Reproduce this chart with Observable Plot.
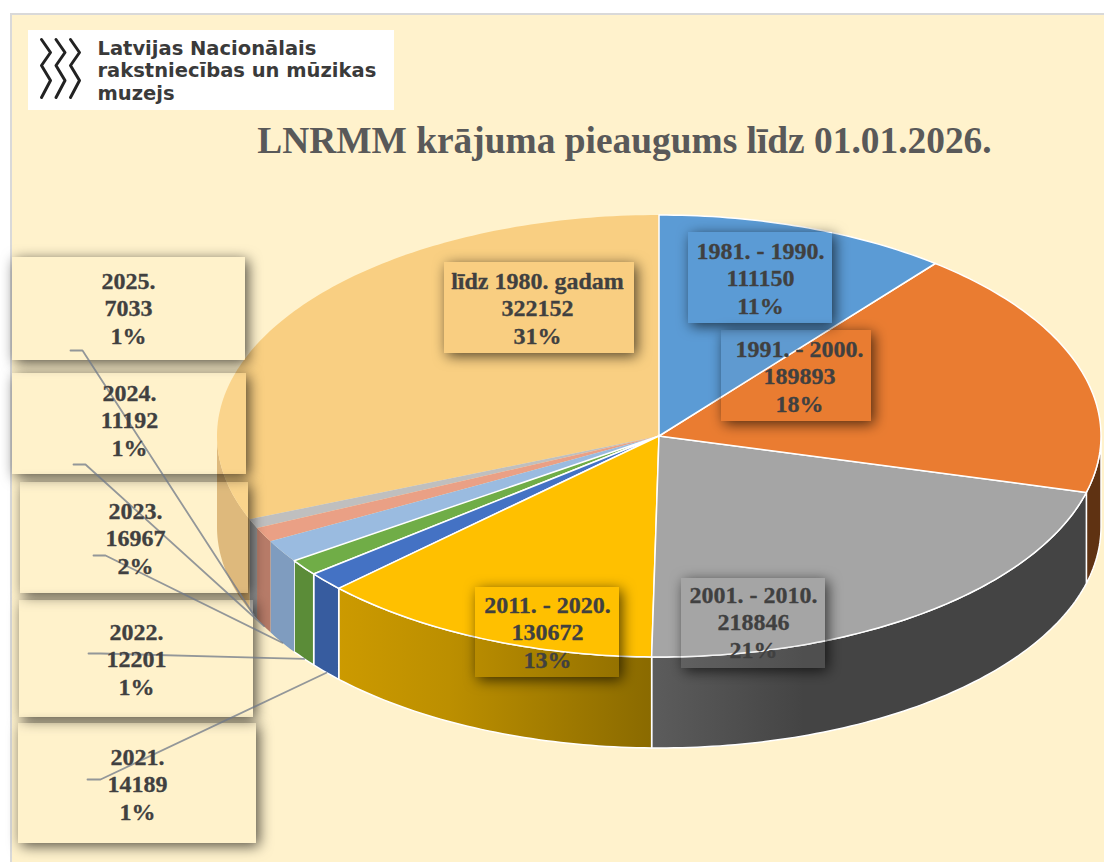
<!DOCTYPE html>
<html>
<head>
<meta charset="utf-8">
<style>html,body{margin:0;padding:0;background:#fff}svg{display:block}</style>
<script src="https://cdn.jsdelivr.net/npm/d3@7"></script>
<script src="https://cdn.jsdelivr.net/npm/@observablehq/plot@0.6"></script>
</head>
<body>
<div id="chart"></div>
<script>
// Data, clockwise from 12 o'clock
const categories = ["1981. - 1990.","1991. - 2000.","2001. - 2010.","2011. - 2020.","2021.","2022.","2023.","2024.","2025.","līdz 1980. gadam"];
const values = [111150,189893,218846,130672,14189,12201,16967,11192,7033,322152];

// Styles
const topColors  = ["#5B9BD5","#EA7C31","#A5A5A5","#FFC000","#4472C4","#70AD47","#9ABBE0","#EAA085","#BFBFBF","#F9CF82"];
const wallColors = ["#44749F","#5F3212","url(#wallGray)","url(#wallGold)","#375C9F","#5B8C38","#7F9CBF","#B77B68","#8F8F8F","#D9B06F"];
const whiteEdge  = [true,true,true,true,true,true,false,false,false,false];
const boxTint    = [0.03,0.03,0.12,0.03,0.15,0.15,0.15,0.15,0.15,0.03];

// Layout (pixels of the picture)
const cx = 659, cy = 436, rx = 442, ry = 221, depth = 91;
const boxX1 = [688,721,681,475,18,19,20,12,12,444];
const boxX2 = [832,871,825,619,256,253,248,246,245,634];
const boxY1 = [232,330,578,587,723,600,482,373,257,262];
const boxY2 = [323,421,668,677,843,717,593,474,360,353];
const textX = [760,799,753,547,137,136,135,129,128,537];
const textY = [277,375,621,631,783,658,537,419,307,307];
const leaderStartX = [null,null,null,null,87,88,93,73,70,null];
const leaderElbowX = [null,null,null,null,100,100,105,85,82,null];
const leaderY      = [null,null,null,null,779,653,555,464,350,null];
const fontSerif = "'Liberation Serif','Times New Roman',serif";

// Logo
const logoLines = ["Latvijas Nacionālais","rakstniecības un mūzikas","muzejs"];
const zigX = [41,50,41,50,41];
const zigY = [39,52,65,80,97];
const zigShift = [0,14.5,29];

const total = d3.sum(values);
const pct = d3.format(".0%");
const sx = t => cx + rx * Math.sin(t);
const sy = t => cy - ry * Math.cos(t);
const rad = Math.PI / 180;

let cum = 0;
const slices = categories.map((name,i) => {
  const a0 = cum / total * 360; cum += values[i]; const a1 = cum / total * 360;
  return {i,name,value:values[i],a0,a1,mid:(a0+a1)/2};
});
const arcAngles = (a0,a1) => { const n = Math.max(2,Math.ceil(a1-a0)); return d3.range(n+1).map(k => a0+(a1-a0)*k/n); };

const topPts = slices.flatMap(s => arcAngles(s.a0,s.a1).map(a => ({
  name:s.name,i:s.i,x1:cx,y1:cy,x2:sx(a*rad),y2:sy(a*rad)})));
const wallPts = slices.flatMap(s => {
  const a0 = Math.max(s.a0,90), a1 = Math.min(s.a1,270);
  if (a1 <= a0) return [];
  return arcAngles(a0,a1).map(a => ({name:s.name,i:s.i,x:sx(a*rad),y1:sy(a*rad),y2:sy(a*rad)+depth}));
});
const leaderPts = slices.filter(s => leaderY[s.i] != null).flatMap(s => [
  {i:s.i,x:leaderStartX[s.i],y:leaderY[s.i]},
  {i:s.i,x:leaderElbowX[s.i],y:leaderY[s.i]},
  {i:s.i,x:sx(s.mid*rad),y:sy(s.mid*rad)+depth}
]);
const boxOrder = [9,0,1,2,3,8,7,6,5,4];

const boxMarks = boxOrder.flatMap(i => {
  const b = [{x1:boxX1[i],x2:boxX2[i],y1:boxY1[i],y2:boxY2[i]}];
  const tint = i >= 4 && i <= 8 ? "#FFF2CC" : topColors[i];
  return [
    Plot.rect(b,{x1:"x1",x2:"x2",y1:"y1",y2:"y2",fill:"#000",imageFilter:"url(#outerShadow)"}),
    Plot.rect(b,{x1:"x1",x2:"x2",y1:"y1",y2:"y2",fill:tint,fillOpacity:boxTint[i]})
  ];
});

const plot = Plot.plot({
  width:1104,height:862,margin:0,
  style:{background:"#fff"},
  x:{domain:[0,1104],range:[0,1104],axis:null},
  y:{domain:[0,862],range:[0,862],axis:null},
  marks:[
    Plot.rect([{}],{x1:()=>11,x2:()=>1110,y1:()=>14,y2:()=>870,fill:"#FFF2CC",stroke:"#d9d9d9",strokeWidth:2}),
    // logo
    Plot.rect([{}],{x1:()=>28,x2:()=>394,y1:()=>30,y2:()=>110,fill:"#fff"}),
    Plot.line(zigShift.flatMap((d,k)=>zigX.map((x,j)=>({k,x:x+d,y:zigY[j]}))),{x:"x",y:"y",z:"k",stroke:"#222",strokeWidth:3}),
    Plot.text([logoLines.join("\n")],{x:()=>97,y:()=>69.5,text:d=>d,textAnchor:"start",lineHeight:1.15,fontFamily:"'DejaVu Sans',sans-serif",fontWeight:"bold",fontSize:19.5,fill:"#3a3a3a"}),
    // title
    Plot.text(["LNRMM krājuma pieaugums līdz 01.01.2026."],{x:()=>624,y:()=>141,text:d=>d,fontFamily:fontSerif,fontWeight:"bold",fontSize:37.4,fill:"#595959"}),
    // walls
    ...slices.filter(s=>wallPts.some(p=>p.i===s.i)).map(s=>Plot.areaY(wallPts.filter(p=>p.i===s.i),{x:"x",y1:"y1",y2:"y2",fill:wallColors[s.i],stroke:whiteEdge[s.i]?"#fff":"none",strokeWidth:1.5})),
    // top faces: unoutlined first
    ...[9,8,7,6,5,4,3,2,1,0].map(i=>Plot.area(topPts.filter(p=>p.i===i),{x1:"x1",y1:"y1",x2:"x2",y2:"y2",fill:topColors[i],stroke:whiteEdge[i]?"#fff":"none",strokeWidth:1.5})),
    // label boxes
    ...boxMarks,
    // leaders
    Plot.line(leaderPts,{x:"x",y:"y",z:"i",stroke:"#6f7888",strokeOpacity:0.75,strokeWidth:1.8}),
    // labels
    Plot.text(slices,{x:d=>textX[d.i],y:d=>textY[d.i],text:d=>`${d.name}\n${d.value}\n${pct(Math.max(d.value/total,0.005))}`,
      lineHeight:1.15,fontFamily:fontSerif,fontWeight:"bold",fontSize:24,fill:"#404040",stroke:"#404040",strokeWidth:0.3})
  ]
});
const defs = document.createElementNS("http://www.w3.org/2000/svg","defs");
defs.innerHTML = `
<linearGradient id="wallGray" x1="0" x2="1" y1="0" y2="0"><stop offset="0" stop-color="#5c5c5c"/><stop offset="0.35" stop-color="#444"/><stop offset="1" stop-color="#444"/></linearGradient>
<linearGradient id="wallGold" x1="0" x2="1" y1="0" y2="0"><stop offset="0" stop-color="#CC9A00"/><stop offset="0.35" stop-color="#BC8F00"/><stop offset="1" stop-color="#8A6A00"/></linearGradient>
<filter id="outerShadow" x="-25%" y="-35%" width="150%" height="170%">
  <feOffset in="SourceAlpha" dx="3" dy="3" result="o"/>
  <feGaussianBlur in="o" stdDeviation="7" result="b"/>
  <feFlood flood-color="#000" flood-opacity="0.68" result="f"/>
  <feComposite in="f" in2="b" operator="in" result="s"/>
  <feComposite in="s" in2="SourceAlpha" operator="out"/>
</filter>`;
plot.insertBefore(defs, plot.firstChild);
document.getElementById("chart").appendChild(plot);
</script>
</body>
</html>
